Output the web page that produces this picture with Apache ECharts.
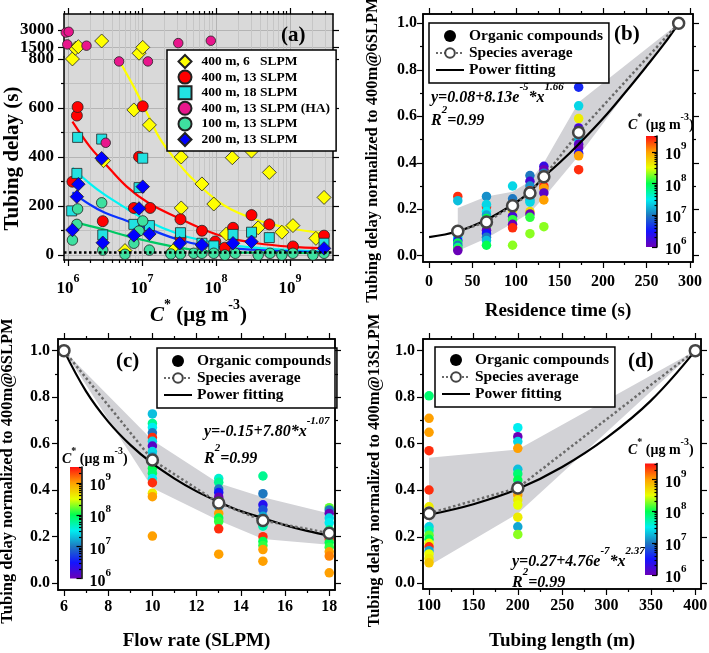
<!DOCTYPE html>
<html><head><meta charset="utf-8">
<script src="https://cdn.jsdelivr.net/npm/echarts@6/dist/echarts.min.js"></script>
<style>html,body{margin:0;padding:0;background:#fff}#c{width:709px;height:653px}</style>
</head><body><div id="c"></div><script>
// ===================== DATA =====================
// Panel (a): [log10 C* (ug m-3), tubing delay (s)]
const a_400m_6slpm = [[6.06,800],[6.10,1450],[6.14,1590],[6.455,2070],[6.48,385],[6.77,18],[6.89,592],[6.96,1030],[7.01,1530],[7.10,531],[7.42,17],[7.53,400],[7.53,192],[7.81,290],[7.97,208],[8.14,86],[8.22,397],[8.48,424],[8.57,111],[8.72,337],[8.89,93],[9.04,120],[9.35,68],[9.46,235]];
const a_400m_13slpm = [[6.06,299],[6.12,569],[6.13,604],[6.47,138],[6.89,192],[6.96,401],[7.01,607],[7.11,192],[7.52,146],[7.52,70],[7.81,99],[7.99,55],[8.12,30],[8.23,111],[8.48,163],[8.72,125],[9.04,35],[9.46,79]];
const a_400m_18slpm = [[6.05,180],[6.12,333],[6.13,480],[6.455,473],[6.47,82],[6.89,125],[6.96,275],[7.01,395],[7.10,120],[7.52,91],[7.81,48],[7.97,37],[8.23,84],[8.48,93],[8.72,71],[9.46,48]];
const a_400m_13slpm_ha = [[5.97,2780],[6.01,2850],[5.99,1780],[6.25,1670],[6.51,458],[6.69,790],[7.08,790],[7.49,1890],[7.93,2090]];
const a_100m_13slpm = [[6.06,61],[6.12,125],[6.13,188],[6.455,213],[6.47,20],[6.77,3],[6.89,48],[6.96,98],[7.01,139],[7.10,20],[7.39,4],[7.52,4],[7.70,7],[7.81,7],[7.97,7],[8.12,0],[8.26,7],[8.57,0],[8.73,7],[8.89,0],[9.04,7],[9.31,0],[9.46,7]];
const a_200m_13slpm = [[6.06,102],[6.12,238],[6.14,289],[6.455,395],[6.47,50],[6.89,80],[6.96,190],[7.01,279],[7.10,86],[7.51,48],[7.81,41],[8.23,48],[8.48,54],[9.46,27]];
const a_fit_6slpm = [[6.68,800],[6.9,680],[7.1,560],[7.24,476],[7.45,390],[7.65,320],[7.9,250],[8.1,204],[8.3,172],[8.55,143],[8.8,122],[9.0,109],[9.2,99],[9.45,89]];
const a_fit_13slpm = [[6.06,544],[6.3,440],[6.48,380],[6.79,280],[7.1,210],[7.5,150],[7.8,108],[8.0,85],[8.23,66],[8.55,48],[9.0,34],[9.45,27]];
const a_fit_18slpm = [[6.06,356],[6.3,290],[6.5,245],[6.79,190],[7.1,135],[7.5,85],[7.8,61],[8.2,40],[8.6,28],[9.0,20],[9.45,15]];
const a_fit_200m = [[6.06,256],[6.3,205],[6.5,172],[6.79,140],[7.1,105],[7.5,62],[7.8,41],[8.2,28],[8.6,20],[9.0,15],[9.45,12]];
const a_fit_100m = [[6.06,136],[6.3,118],[6.5,103],[6.79,78],[7.1,55],[7.5,30],[7.8,17],[8.2,11],[8.8,9],[9.45,8]];
const a_baseline = 11;
const a_xTicks = [6,7,8,9];
const a_yTicksLow = [0,200,400,600,800];
const a_yTicksHigh = [1500,3000];
const a_names = ['400 m, 6   SLPM','400 m, 13 SLPM','400 m, 18 SLPM','400 m, 13 SLPM (HA)','100 m, 13 SLPM','200 m, 13 SLPM'];

// Panel (b): [residence time (s), normalized delay, log10 C*]
const b_points = [
 [33,0.255,9.4],[33,0.237,7.3],[33,0.08,7.5],[33,0.065,6.5],[33,0.055,8.0],[33,0.045,7.0],[33,0.035,7.8],[33,0.028,8.1],[33,0.022,6.0],
 [66,0.255,7.1],[66,0.21,9.4],[66,0.22,7.4],[66,0.19,7.5],[66,0.175,7.2],[66,0.16,8.0],[66,0.14,7.4],[66,0.125,8.1],[66,0.11,6.0],[66,0.095,6.5],[66,0.08,7.0],[66,0.065,7.3],[66,0.045,8.0],
 [96,0.30,7.4],[96,0.245,7.0],[96,0.22,7.5],[96,0.205,8.5],[96,0.195,8.6],[96,0.17,6.2],[96,0.155,8.1],[96,0.135,6.0],[96,0.12,9.4],[96,0.045,8.3],
 [116,0.345,7.0],[116,0.32,6.2],[116,0.30,7.1],[116,0.28,9.4],[116,0.26,7.3],[116,0.24,7.2],[116,0.23,7.4],[116,0.19,8.7],[116,0.18,6.0],[116,0.165,8.1],[116,0.095,8.3],
 [132,0.385,6.3],[132,0.37,6.0],[132,0.355,7.0],[132,0.335,7.4],[132,0.30,9.4],[132,0.29,9.0],[132,0.27,6.1],[132,0.24,9.0],[132,0.125,8.3],
 [172,0.725,6.6],[172,0.645,7.4],[172,0.59,8.6],[172,0.55,6.2],[172,0.52,6.8],[172,0.50,7.3],[172,0.48,6.1],[172,0.465,6.0],[172,0.44,6.4],[172,0.43,9.0],[172,0.37,9.4]];
const b_avg = [[33,0.105],[66,0.145],[96,0.215],[116,0.27],[132,0.34],[172,0.53],[287,1.0]];
const b_fit = [[0,0.08],[33,0.105],[66,0.155],[96,0.22],[116,0.275],[132,0.34],[150,0.40],[172,0.48],[200,0.59],[225,0.70],[250,0.815],[270,0.91],[287,1.0]];
const b_bandUpper = [[33,0.205],[66,0.255],[96,0.275],[116,0.32],[132,0.40],[172,0.66],[287,1.0]];
const b_bandLower = [[33,0.02],[66,0.075],[96,0.14],[116,0.185],[132,0.25],[172,0.43],[287,1.0]];

// Panel (c): [flow rate (SLPM), normalized delay, log10 C*]
const c_points = [
 [10,0.728,7.3],[10,0.687,7.8],[10,0.67,7.5],[10,0.647,7.0],[10,0.627,9.4],[10,0.61,7.4],[10,0.59,6.1],[10,0.566,7.4],[10,0.544,7.2],[10,0.518,6.5],[10,0.494,8.0],[10,0.473,7.9],[10,0.45,7.5],[10,0.432,9.4],[10,0.387,8.6],[10,0.372,9.0],[10,0.203,9.0],
 [13,0.45,7.6],[13,0.434,7.8],[13,0.405,7.0],[13,0.39,6.5],[13,0.37,6.0],[13,0.35,7.4],[13,0.33,7.2],[13,0.30,9.0],[13,0.28,8.0],[13,0.265,8.1],[13,0.234,9.4],[13,0.125,9.0],
 [15,0.461,7.8],[15,0.385,7.0],[15,0.337,6.4],[15,0.316,6.8],[15,0.288,7.2],[15,0.26,7.4],[15,0.245,7.7],[15,0.20,9.4],[15,0.18,8.0],[15,0.162,8.1],[15,0.145,9.0],[15,0.095,9.0],
 [18,0.325,8.2],[18,0.315,7.0],[18,0.30,6.0],[18,0.28,7.4],[18,0.26,7.5],[18,0.23,7.8],[18,0.19,9.4],[18,0.175,8.0],[18,0.155,8.1],[18,0.135,9.0],[18,0.117,9.1],[18,0.045,9.0]];
const c_avg = [[6,1.0],[10,0.53],[13,0.345],[15,0.27],[18,0.215]];
const c_fit = [[6,1.0],[7,0.825],[8,0.695],[9,0.595],[10,0.515],[11,0.45],[12,0.395],[13,0.35],[14,0.31],[15,0.28],[16,0.25],[17,0.225],[18,0.205]];
const c_bandUpper = [[6,1.0],[10,0.615],[13,0.43],[15,0.37],[18,0.30]];
const c_bandLower = [[6,1.0],[10,0.41],[13,0.27],[15,0.19],[18,0.165]];

// Panel (d): [tubing length (m), normalized delay, log10 C*]
const d_points = [
 [100,0.806,7.9],[100,0.709,9.0],[100,0.649,9.0],[100,0.57,9.4],[100,0.401,9.4],[100,0.329,8.6],[100,0.31,6.5],[100,0.243,7.4],[100,0.226,7.7],[100,0.207,8.2],[100,0.189,8.0],[100,0.172,8.5],[100,0.157,9.4],[100,0.14,7.2],[100,0.126,8.5],[100,0.107,8.6],[100,0.088,8.8],
 [200,0.669,7.5],[200,0.63,6.0],[200,0.609,7.4],[200,0.58,9.0],[200,0.49,7.3],[200,0.47,7.9],[200,0.444,8.0],[200,0.42,7.2],[200,0.401,9.4],[200,0.38,9.0],[200,0.358,8.6],[200,0.336,8.5],[200,0.284,8.6],[200,0.243,7.2],[200,0.21,8.3]];
const d_avg = [[100,0.30],[200,0.41],[400,1.0]];
const d_fit = [[100,0.295],[150,0.34],[200,0.405],[250,0.50],[300,0.625],[350,0.785],[400,1.0]];
const d_bandUpper = [[100,0.54],[200,0.575],[400,1.0]];
const d_bandLower = [[100,0.075],[200,0.30],[400,1.0]];

// Colour bar (log10 C*)
const cb_ticks = [6,7,8,9];
const cb_colors = ['#6a00b8','#1414ff','#1e78c0','#00eef0','#00ff50','#e8ff00','#ffa000','#ff1010'];

// ===================== BUILD =====================
const FONT = 'Liberation Serif';
const xAxes = [], yAxes = [], series = [];
function mkAxis(dim, g, pos, rng, ticks, len, o) {
  o = o || {};
  const ax = {
    gridIndex: g, type: 'value', position: pos, min: rng[0], max: rng[1],
    axisLine: {show: !!o.line, onZero: false, lineStyle: {color: '#000', width: 1.5}},
    axisTick: {show: ticks.length > 0, customValues: ticks, length: len, inside: !!o.inside, lineStyle: {color: '#000', width: 1.2}},
    axisLabel: {show: false},
    splitLine: {show: !!o.split, lineStyle: {color: o.split || '#ccc', width: 1}},
    minorTick: {show: false}, minorSplitLine: {show: false}
  };
  if (o.z !== undefined) ax.z = o.z;
  if (o.hidden) ax.show = false;
  if (o.labels) {
    ax.axisLabel = {show: true, customValues: o.labels, margin: o.margin, formatter: o.fmt || (v => String(v)),
      fontFamily: FONT, fontWeight: 'bold', fontSize: o.fs || 16, color: '#000', rich: o.rich, hideOverlap: false};
  }
  if (o.name) {
    Object.assign(ax, {name: o.name, nameLocation: 'middle', nameGap: o.nameGap, nameRotate: dim === 'y' ? 90 : 0,
      nameTextStyle: {fontFamily: FONT, fontWeight: 'bold', fontSize: o.nameFs || 18, color: '#000', rich: o.nameRich, padding: o.namePad || 0}});
  }
  const list = dim === 'x' ? xAxes : yAxes;
  list.push(ax);
  return list.length - 1;
}
function supRich(fs, sfs, lh) {
  return {
    b: {fontFamily: FONT, fontWeight: 'bold', fontSize: fs, color: '#000', verticalAlign: 'bottom', lineHeight: lh},
    i: {fontFamily: FONT, fontWeight: 'bold', fontStyle: 'italic', fontSize: fs, color: '#000', verticalAlign: 'bottom', lineHeight: lh},
    s: {fontFamily: FONT, fontWeight: 'bold', fontSize: sfs, color: '#000', verticalAlign: 'top'}
  };
}
const cstarText = '{i|C}{s|*}{b| (μg m}{s|-3}{b|)}';
const logMinor = [];
for (let n = 5; n <= 9; n++) for (let k = 2; k <= 9; k++) logMinor.push(n + Math.log10(k));

// ---- Panel (a): two grids (upper broken part, lower linear part)
const A_X = [5.946, 9.581];
const A_YH = [712, 4356];
const A_YL = [-20.4, 808];
const A_BREAK = 808;
const a_yMinorLow = [100,300,500,700];
const aXt = mkAxis('x', 0, 'top', A_X, a_xTicks, 6, {line: true, split: '#b4b4b4'});
mkAxis('x', 0, 'top', A_X, logMinor, 3, {split: '#c6c6c6'});
const aYh = mkAxis('y', 0, 'left', A_YH, a_yTicksHigh, 6, {line: true, split: '#b4b4b4', labels: a_yTicksHigh, margin: 10, fs: 17});
mkAxis('y', 0, 'right', A_YH, a_yTicksHigh, 6, {line: true});
const aX = mkAxis('x', 1, 'bottom', A_X, a_xTicks, 6, {line: true, split: '#b4b4b4', labels: a_xTicks,
  fmt: v => '{b|10}{s|' + v + '}', rich: supRich(17, 12, 24), margin: 13,
  name: cstarText, nameGap: 38, nameRich: supRich(21, 14, 28), nameFs: 21});
mkAxis('x', 1, 'bottom', A_X, logMinor, 3, {split: '#c6c6c6'});
const aYl = mkAxis('y', 1, 'left', A_YL, a_yTicksLow, 6, {line: true, split: '#b4b4b4', labels: a_yTicksLow, margin: 10, fs: 17,
  name: 'Tubing delay (s)', nameGap: 41, nameFs: 21});
mkAxis('y', 1, 'left', A_YL, a_yMinorLow, 3, {split: '#c0c0c0'});
mkAxis('y', 1, 'right', A_YL, a_yTicksLow, 6, {line: true});
mkAxis('y', 1, 'right', A_YL, a_yMinorLow, 3);

const aStyles = [
  {data: a_400m_6slpm, symbol: 'diamond', size: 14, color: '#ffff00'},
  {data: a_400m_13slpm, symbol: 'circle', size: 11, color: '#ff0000'},
  {data: a_400m_18slpm, symbol: 'rect', size: 10, color: '#22e2e2'},
  {data: a_400m_13slpm_ha, symbol: 'circle', size: 9.5, color: '#e8168c'},
  {data: a_100m_13slpm, symbol: 'circle', size: 10.5, color: '#3ee0a0'},
  {data: a_200m_13slpm, symbol: 'diamond', size: 13.5, color: '#0000ff'}
];
const aFits = [[a_fit_6slpm, '#ffff00'], [a_fit_13slpm, '#ff0000'], [a_fit_18slpm, '#00f4f4'], [a_fit_200m, '#0a32ff'], [a_fit_100m, '#00c864']];
aFits.forEach((f, i) => series.push({type: 'line', xAxisIndex: aX, yAxisIndex: aYl, data: f[0], smooth: 0.4, symbol: 'none',
  lineStyle: {color: f[1], width: 2.2}, z: 2, silent: true,
  markLine: i === 4 ? {silent: true, symbol: 'none', label: {show: false}, lineStyle: {type: 'dotted', color: '#000', width: 2.5}, data: [{yAxis: a_baseline}]} : undefined}));
aStyles.forEach((s, i) => {
  const common = {type: 'scatter', name: a_names[i], symbol: s.symbol, symbolSize: s.size, z: 3,
    itemStyle: {color: s.color, borderColor: '#222', borderWidth: 0.8, opacity: 1}};
  series.push(Object.assign({}, common, {xAxisIndex: aX, yAxisIndex: aYl, data: s.data.filter(p => p[1] <= A_BREAK)}));
  series.push(Object.assign({}, common, {xAxisIndex: aXt, yAxisIndex: aYh, data: s.data.filter(p => p[1] > A_BREAK)}));
});

// ---- Panels (b), (c), (d)
const P_YMAJ = [0, 0.2, 0.4, 0.6, 0.8, 1.0], P_YMIN = [0.1, 0.3, 0.5, 0.7, 0.9];
const panels = [];
function panel(g, cfg) {
  const xi = mkAxis('x', g, 'bottom', cfg.xr, [], 0, {labels: cfg.xMaj, margin: cfg.xm, fs: 16,
    name: cfg.xName, nameGap: cfg.xGap, nameFs: 19});
  const yi = mkAxis('y', g, 'left', cfg.yr, [], 0, {labels: P_YMAJ, fmt: v => v.toFixed(1), margin: cfg.ym, fs: 16,
    name: cfg.yName, nameGap: cfg.yGap, nameFs: 16.5, namePad: [0, cfg.yShift, 0, 0]});
  const poly = cfg.bandU.concat(cfg.bandL.slice().reverse());
  series.push({type: 'custom', xAxisIndex: xi, yAxisIndex: yi, data: poly, z: 1, silent: true,
    renderItem: function (params, api) {
      if (params.dataIndex !== 0) return null;
      return {type: 'polygon', shape: {points: poly.map(p => api.coord(p))}, style: {fill: '#d2d2d6', stroke: null}};
    }});
  series.push({type: 'scatter', name: 'Organic compounds', xAxisIndex: xi, yAxisIndex: yi, data: cfg.pts,
    symbolSize: 9.5, itemStyle: {color: '#000', opacity: 1}, z: 2});
  const scIdx = series.length - 1;
  series.push({type: 'line', name: 'Power fitting', xAxisIndex: xi, yAxisIndex: yi, data: cfg.fit, smooth: 0.4, symbol: 'none',
    lineStyle: {color: '#000', width: 2.2}, itemStyle: {color: '#000'}, z: 3});
  series.push({type: 'line', name: 'Species average', xAxisIndex: xi, yAxisIndex: yi, data: cfg.avg, symbol: 'circle', symbolSize: 11,
    lineStyle: {color: '#6a6a6a', width: 2.5, type: 'dotted'}, itemStyle: {color: '#fff', borderColor: '#444', borderWidth: 2.5}, z: 4});
  panels.push({g: g, cfg: cfg});
  return scIdx;
}
const sB = panel(2, {xr: [-7, 303.5], yr: [-0.027, 1.04], xMaj: [0,50,100,150,200,250,300], xMin: [25,75,125,175,225,275],
  xm: 12, ym: 6, xName: 'Residence time (s)', xGap: 40, yName: 'Tubing delay normalized to 400m@6SLPM', yGap: 42, yShift: 24,
  pts: b_points, avg: b_avg, fit: b_fit, bandU: b_bandUpper, bandL: b_bandLower});
const sC = panel(3, {xr: [5.73, 18.26], yr: [-0.029, 1.05], xMaj: [6,8,10,12,14,16,18], xMin: [7,9,11,13,15,17],
  xm: 9, ym: 8, xName: 'Flow rate (SLPM)', xGap: 42, yName: 'Tubing delay normalized to 400m@6SLPM', yGap: 42, yShift: 13,
  pts: c_points, avg: c_avg, fit: c_fit, bandU: c_bandUpper, bandL: c_bandLower});
const sD = panel(4, {xr: [93.2, 406.4], yr: [-0.0245, 1.05], xMaj: [100,150,200,250,300,350,400], xMin: [125,175,225,275,325,375],
  xm: 9, ym: 8, xName: 'Tubing length (m)', xGap: 43, yName: 'Tubing delay normalized to 400m@13SLPM', yGap: 40, yShift: 13,
  pts: d_points, avg: d_avg, fit: d_fit, bandU: d_bandUpper, bandL: d_bandLower});

// ---- Colour bars (grids 5-7)
const cbMinor = logMinor.filter(v => v > 6 && v < 9.5);
[5, 6, 7].forEach(g => {
  mkAxis('x', g, 'bottom', [0, 1], [], 0, {hidden: true});
  mkAxis('y', g, 'right', [6, 9.5], cb_ticks, 5, {z: 10, inside: true, line: true, labels: cb_ticks,
    fmt: v => '{b|10}{s|' + v + '}', rich: supRich(16, 11, 22), margin: 8});
  mkAxis('y', g, 'right', [6, 9.5], cbMinor, 2.5, {z: 10, inside: true});
});
const cbGrad = () => ({type: 'linear', x: 0, y: 1, x2: 0, y2: 0,
  colorStops: cb_colors.map((c, i) => ({offset: i / (cb_colors.length - 1), color: c}))});

// ---- Frame grids (8-10): same rectangles as panels (b)-(d), carrying the box and the outward ticks on four sides
const panelRects = [
  {left: 423, top: 14, width: 270, height: 248},
  {left: 58, top: 339, width: 277, height: 251},
  {left: 423, top: 339, width: 278, height: 250}
];
panels.forEach((P, k) => {
  const g = 8 + k, c = P.cfg;
  mkAxis('x', g, 'bottom', c.xr, c.xMaj, 6, {line: true, z: 8});
  mkAxis('x', g, 'bottom', c.xr, c.xMin, 3, {z: 8});
  mkAxis('x', g, 'top', c.xr, c.xMaj, 6, {line: true, z: 8});
  mkAxis('x', g, 'top', c.xr, c.xMin, 3, {z: 8});
  mkAxis('y', g, 'left', c.yr, P_YMAJ, 6, {line: true, z: 8});
  mkAxis('y', g, 'left', c.yr, P_YMIN, 3, {z: 8});
  mkAxis('y', g, 'right', c.yr, P_YMAJ, 6, {line: true, z: 8});
  mkAxis('y', g, 'right', c.yr, P_YMIN, 3, {z: 8});
});

const grids = [
  {left: 64, top: 14, width: 269, height: 43, show: true, backgroundColor: '#d9d9d9', borderWidth: 0, outerBoundsMode: 'none'},
  {left: 64, top: 57, width: 269, height: 203, show: true, backgroundColor: '#d9d9d9', borderWidth: 0, outerBoundsMode: 'none'},
  Object.assign({show: false, outerBoundsMode: 'none'}, panelRects[0]),
  Object.assign({show: false, outerBoundsMode: 'none'}, panelRects[1]),
  Object.assign({show: false, outerBoundsMode: 'none'}, panelRects[2]),
  {left: 646, top: 136, width: 11, height: 111, show: true, backgroundColor: cbGrad(), borderWidth: 0, outerBoundsMode: 'none'},
  {left: 70, top: 467, width: 11.5, height: 111.5, show: true, backgroundColor: cbGrad(), borderWidth: 0, outerBoundsMode: 'none'},
  {left: 645, top: 463.5, width: 12, height: 111.5, show: true, backgroundColor: cbGrad(), borderWidth: 0, outerBoundsMode: 'none'},
  Object.assign({show: true, backgroundColor: 'rgba(255,255,255,0)', borderColor: '#000', borderWidth: 1.5, outerBoundsMode: 'none'}, panelRects[0]),
  Object.assign({show: true, backgroundColor: 'rgba(255,255,255,0)', borderColor: '#000', borderWidth: 1.5, outerBoundsMode: 'none'}, panelRects[1]),
  Object.assign({show: true, backgroundColor: 'rgba(255,255,255,0)', borderColor: '#000', borderWidth: 1.5, outerBoundsMode: 'none'}, panelRects[2])
];

const legText = {fontFamily: FONT, fontWeight: 'bold', fontSize: 15.5, color: '#000', lineHeight: 16};
const legData = ['Organic compounds', 'Species average', {name: 'Power fitting', itemStyle: {opacity: 0}}];
const legBase = {orient: 'vertical', itemWidth: 28, itemHeight: 12, itemGap: 1, padding: [5, 6, 5, 6],
  backgroundColor: '#fff', borderColor: '#000', borderWidth: 1.5, selectedMode: false, textStyle: legText, data: legData};
const legends = [
  {left: 167, top: 50, orient: 'vertical', itemWidth: 13, itemHeight: 13, itemGap: 0.6, padding: [4, 6, 4, 10.5],
    backgroundColor: '#fff', borderColor: '#000', borderWidth: 1.5, selectedMode: false,
    textStyle: {fontFamily: FONT, fontWeight: 'bold', fontSize: 13.5, color: '#000', lineHeight: 13, padding: [0, 0, 0, 5]}, data: a_names},
  Object.assign({left: 429, top: 23}, legBase),
  Object.assign({left: 157, top: 348}, legBase),
  Object.assign({left: 435, top: 347}, legBase)
];

const eqRich = {
  n: {fontFamily: FONT, fontWeight: 'bold', fontStyle: 'italic', fontSize: 16, color: '#000', verticalAlign: 'bottom', lineHeight: 24},
  s: {fontFamily: FONT, fontWeight: 'bold', fontStyle: 'italic', fontSize: 11, color: '#000', verticalAlign: 'top'}
};
function txt(text, left, top, rich) {
  return {text: text, left: left, top: top, padding: 0, textStyle: {rich: rich}};
}
const panelRich = {p: {fontFamily: FONT, fontWeight: 'bold', fontSize: 21, color: '#000'}};
const cbRich = supRich(14, 10, 20);
const titles = [
  txt('{p|(a)}', 281, 25, panelRich), txt('{p|(b)}', 614, 24, panelRich),
  txt('{p|(c)}', 116, 351, panelRich), txt('{p|(d)}', 628, 351, panelRich),
  txt('{n|y=0.08+8.13e}{s|-5}{n|*x}{s|1.66}', 431, 82, eqRich), txt('{n|R}{s|2}{n|=0.99}', 431, 105, eqRich),
  txt('{n|y=-0.15+7.80*x}{s|-1.07}', 204, 416, eqRich), txt('{n|R}{s|2}{n|=0.99}', 204, 443, eqRich),
  txt('{n|y=0.27+4.76e}{s|-7}{n|*x}{s|2.37}', 512, 546, eqRich), txt('{n|R}{s|2}{n|=0.99}', 512, 567, eqRich),
  txt(cstarText, 628, 112, cbRich), txt(cstarText, 62, 446, cbRich), txt(cstarText, 628, 437, cbRich)
];

const chart = echarts.init(document.getElementById('c'), null, {renderer: 'canvas'});
chart.setOption({
  animation: false,
  backgroundColor: '#fff',
  grid: grids, xAxis: xAxes, yAxis: yAxes, legend: legends, title: titles,
  visualMap: [{type: 'continuous', show: false, min: 6, max: 9.5, dimension: 2, seriesIndex: [sB, sC, sD],
    inRange: {color: cb_colors}}],
  series: series
});
</script></body></html>
